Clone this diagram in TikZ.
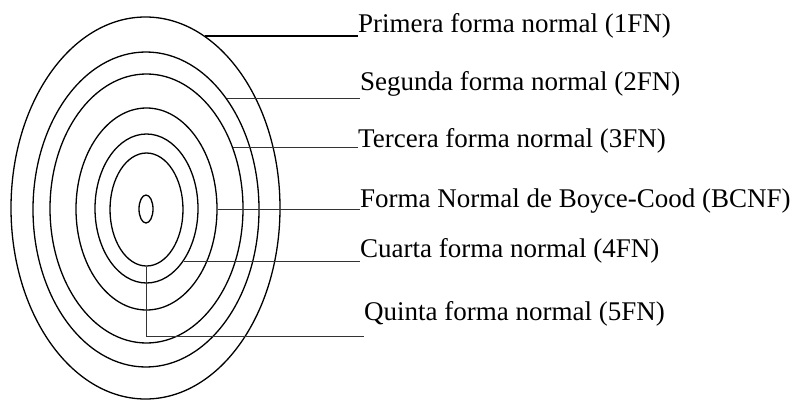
\documentclass[tikz,border=0pt]{standalone}
\usepackage{fontspec}
\setmainfont{Liberation Serif}
\usetikzlibrary{shapes.geometric}

\begin{document}
\begin{tikzpicture}[x=1pt,y=-1pt]
  \tikzset{
    ring/.style={draw,ellipse,line width=1.3pt,inner sep=0pt},
    lbl/.style={anchor=base west,inner sep=0pt,font=\fontsize{27}{30}\selectfont},
    lead/.style={line width=0.9pt,black!80}}
  \useasboundingbox (0,0) rectangle (791,401);

  % the nested forms
  \node[ring,minimum width=269,minimum height=382] (e1) at (145.5,208) {};
  \node[ring,minimum width=226,minimum height=315] (e2) at (146,209.5) {};
  \node[ring,minimum width=193,minimum height=269] (e3) at (146.5,208.5) {};
  \node[ring,minimum width=141,minimum height=202] (e4) at (146.5,209) {};
  \node[ring,minimum width=103,minimum height=149] (e5) at (146.5,208.5) {};
  \node[ring,minimum width=73,minimum height=113] (e6) at (146.5,209.5) {};
  \node[ring,minimum width=14,minimum height=28] (e0) at (146,209) {};

  % labels
  \node[lbl] (t1) at (358,33) {Primera forma normal (1FN)};
  \node[lbl] (t2) at (360,91) {Segunda forma normal (2FN)};
  \node[lbl] (t3) at (358,147) {Tercera forma normal (3FN)};
  \node[lbl] (t4) at (360,207) {Forma Normal de Boyce-Cood (BCNF)};
  \node[lbl] (t5) at (360,257) {Cuarta forma normal (4FN)};
  \node[lbl] (t6) at (364,320) {Quinta forma normal (5FN)};

  % leaders
  \draw[lead,line width=1.6pt,black] (e1.71) -- (t1.base west |- e1.71);
  \draw[lead] (e2.54.3) -- (t2.base west |- e2.54.3);
  \draw[lead] (e3.35.2) -- (t3.base west |- e3.35.2);
  \draw[lead] (e4.east) -- (t4.base west |- e4.east);
  \draw[lead] (e5.-55.9) -- (t5.base west |- e5.-55.9);
  \coordinate (q) at (146.5,336);
  \draw[lead] (e6.south) -- (q) -- (q -| t6.base west);
\end{tikzpicture}
\end{document}
